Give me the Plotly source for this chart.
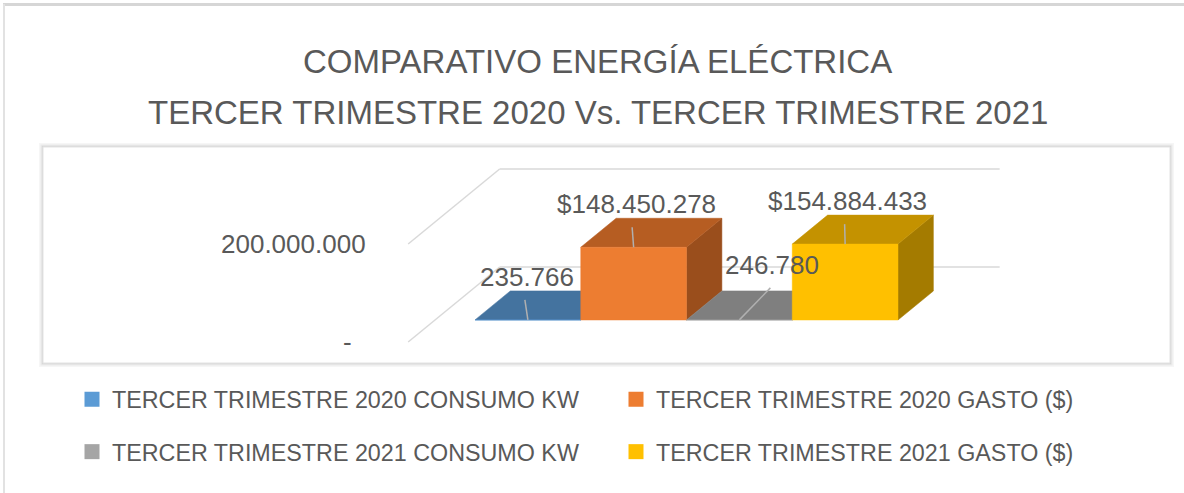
import plotly.graph_objects as go

# ---------------- data ----------------
series_names = [
    "TERCER TRIMESTRE 2020 CONSUMO KW",
    "TERCER TRIMESTRE 2020 GASTO ($)",
    "TERCER TRIMESTRE 2021 CONSUMO KW",
    "TERCER TRIMESTRE 2021 GASTO ($)",
]
values = [235766, 148450278, 246780, 154884433]
value_labels = ["235.766", "$148.450.278", "246.780", "$154.884.433"]
tick_values = [0, 200000000]
tick_labels = ["-", "200.000.000"]
title_lines = ["COMPARATIVO ENERGÍA ELÉCTRICA",
               "TERCER TRIMESTRE 2020 Vs. TERCER TRIMESTRE 2021"]

# ---------------- styles ----------------
front_colors = ["#5B9BD5", "#ED7D31", "#A5A5A5", "#FFC000"]
top_colors = ["#44739F", "#B65D22", "#7F7F7F", "#C49200"]
side_colors = ["#3A6188", "#9A4E1C", "#6E6E6E", "#A47B00"]
legend_colors = ["#5B9BD5", "#ED7D31", "#A5A5A5", "#FFC000"]
TXT = "#595959"
GRID = "#D9D9D9"
LEADER = "#B0B0B0"
FONT = "Liberation Sans, Arial, sans-serif"

# ---------------- geometry (layout calibration) ----------------
W, H = 1184, 493
ML, MR, MT, MB = 42, 14, 146, 128
PW, PH = W - ML - MR, H - MT - MB
PXU = 105.75            # px per category unit
PXV = 0.49e-6           # px per value unit
X0 = -0.5 - (475 - ML) / PXU
X1 = X0 + PW / PXU
Y0 = -(H - MB - 320) / PXV
Y1 = Y0 + PH / PXV
SLOPE = 1.22            # oblique: px right per px up
BAR_DEPTH = 29
WALL_FRONT = -22
WALL_BACK = 53
WALL_LEFT = (435 - 475) / PXU - 0.5
WALL_RIGHT = (935 - 475) / PXU - 0.5


def depth(d):
    return SLOPE * d / PXU, d / PXV


def pxx(px):
    return (px - ML) / PW


def pxy(py):
    return (H - MB - py) / PH


# label offsets (px) relative to bar front-top center
label_off = [(-1, 43), (2.5, 43), (33, 55), (2.5, 43)]
leader_end = [(-3, 20), (-1.5, 20), (31, 32), (-0.5, 20)]

fig = go.Figure()

# bars as oblique boxes
du, dv = depth(BAR_DEPTH)
for i, v in enumerate(values):
    xl, xr = i - 0.5, i + 0.5
    side = ([xr, xr + du, xr + du, xr, xr], [0, dv, v + dv, v, 0])
    top = ([xl, xr, xr + du, xl + du, xl], [v, v, v + dv, v + dv, v])
    front = ([xl, xr, xr, xl, xl], [0, 0, v, v, 0])
    for (xs, ys), col in ((side, side_colors[i]), (top, top_colors[i]), (front, front_colors[i])):
        fig.add_trace(go.Scatter(x=xs, y=ys, mode="lines", fill="toself",
                                 fillcolor=col, line=dict(color=col, width=0.5),
                                 showlegend=False, hoverinfo="skip"))

# leader lines
for i, v in enumerate(values):
    ex, ey = leader_end[i]
    fig.add_trace(go.Scatter(x=[i, i + ex / PXU], y=[v, v + ey / PXV], mode="lines",
                             line=dict(color=LEADER, width=1.5),
                             showlegend=False, hoverinfo="skip"))

# legend entries
for i, name in enumerate(series_names):
    fig.add_trace(go.Scatter(x=[None], y=[None], mode="markers", name=name,
                             marker=dict(symbol="square", size=15, color=legend_colors[i]),
                             legend="legend" if i < 2 else "legend2"))

# wall gridlines
fu, fv = depth(WALL_FRONT)
bu, bv = depth(WALL_BACK)
for tv in tick_values:
    fig.add_shape(type="line", xref="x", yref="y", layer="below",
                  x0=WALL_LEFT + fu, y0=tv + fv, x1=WALL_LEFT + bu, y1=tv + bv,
                  line=dict(color=GRID, width=1.5))
    fig.add_shape(type="line", xref="x", yref="y", layer="below",
                  x0=WALL_LEFT + bu, y0=tv + bv, x1=WALL_RIGHT + bu, y1=tv + bv,
                  line=dict(color=GRID, width=1.5))

# tick labels
tick_shift = {"-": -54, "200.000.000": -40}
for tv, tl in zip(tick_values, tick_labels):
    fig.add_annotation(x=WALL_LEFT + fu, y=tv + fv, xref="x", yref="y", text=tl,
                       showarrow=False, xanchor="right", yanchor="middle",
                       xshift=tick_shift[tl], font=dict(size=26, color=TXT, family=FONT))

# data labels
for i, v in enumerate(values):
    ox, oy = label_off[i]
    fig.add_annotation(x=i, y=v, xref="x", yref="y", text=value_labels[i],
                       showarrow=False, xanchor="center", yanchor="middle",
                       xshift=ox, yshift=oy, font=dict(size=26, color=TXT, family=FONT))

# title
for line, py in zip(title_lines, [61.5, 112.5]):
    fig.add_annotation(x=pxx(597.5), y=pxy(py), xref="paper", yref="paper", text=line,
                       showarrow=False, xanchor="center", yanchor="middle",
                       font=dict(size=33, color=TXT, family=FONT))

# plot-area box with soft shadow
for grow, col in ((4, "rgba(0,0,0,0.035)"), (2.5, "rgba(0,0,0,0.05)"), (1.2, "rgba(0,0,0,0.07)")):
    fig.add_shape(type="rect", xref="paper", yref="paper", layer="below",
                  x0=pxx(43 - grow), x1=pxx(1170 + grow), y0=pxy(363 + grow), y1=pxy(147 - grow),
                  line=dict(width=0), fillcolor=col)
fig.add_shape(type="rect", xref="paper", yref="paper", layer="below",
              x0=pxx(43), x1=pxx(1170), y0=pxy(363), y1=pxy(147),
              line=dict(color="#E3E3E3", width=1), fillcolor="white")

# outer chart border (top / left)
fig.add_shape(type="line", xref="paper", yref="paper", x0=pxx(3), x1=pxx(W), y0=pxy(4.5), y1=pxy(4.5),
              line=dict(color="#D6D6D6", width=3))
fig.add_shape(type="line", xref="paper", yref="paper", x0=pxx(4), x1=pxx(4), y0=pxy(4), y1=pxy(H),
              line=dict(color="#E2E2E2", width=2))

legend_common = dict(orientation="h", xanchor="left", yanchor="middle",
                     entrywidth=499, entrywidthmode="pixels", itemwidth=30,
                     bgcolor="rgba(0,0,0,0)", borderwidth=0,
                     font=dict(size=23.3, color=TXT, family=FONT))

fig.update_layout(
    width=W, height=H,
    margin=dict(l=ML, r=MR, t=MT, b=MB, pad=0),
    paper_bgcolor="white", plot_bgcolor="rgba(0,0,0,0)",
    xaxis=dict(range=[X0, X1], visible=False, fixedrange=True),
    yaxis=dict(range=[Y0, Y1], visible=False, fixedrange=True),
    legend=dict(x=pxx(72), y=pxy(399.5), **legend_common),
    legend2=dict(x=pxx(72), y=pxy(452), **legend_common),
    showlegend=True,
)

fig.write_html("out.html", config={"displayModeBar": False},
               post_script="document.body.style.margin='0px';")
